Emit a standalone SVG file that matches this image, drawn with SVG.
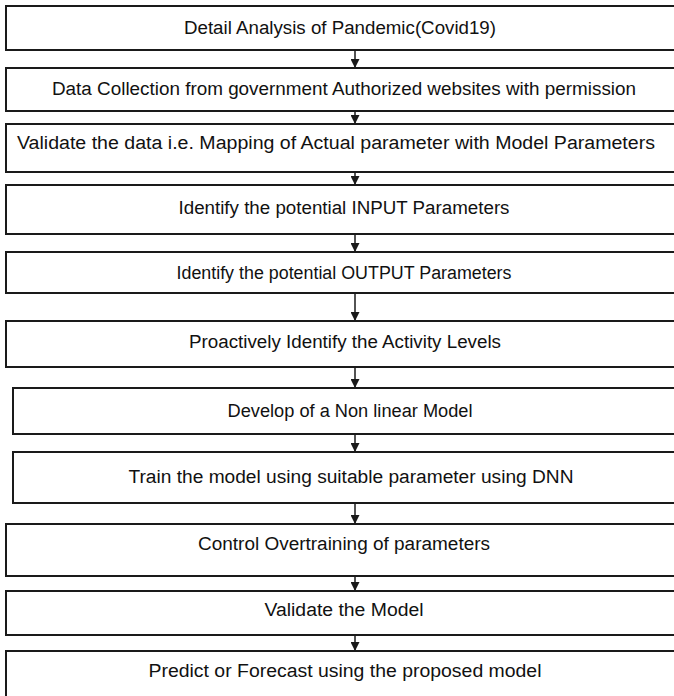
<svg xmlns="http://www.w3.org/2000/svg" width="674" height="696" viewBox="0 0 674 696">
  <style>
    .box { fill: #ffffff; stroke: #1a1a1a; stroke-width: 2; }
    .lbl { font-family: "Liberation Sans", Arial, sans-serif; font-size: 18px; fill: #111111; text-anchor: middle; }
    .conn { stroke: #1a1a1a; stroke-width: 1.5; fill: none; marker-end: url(#arrow); }
  </style>
  <defs>
    <marker id="arrow" markerUnits="userSpaceOnUse" viewBox="0 0 10 10" markerWidth="9" markerHeight="9" refX="10" refY="5" orient="auto">
      <path d="M0,0 L10,5 L0,10 z" fill="#1a1a1a"/>
    </marker>
  </defs>
  <rect width="674" height="696" fill="#ffffff"/>

  <g id="connectors">
    <line class="conn" x1="355" y1="50" x2="355" y2="68"/>
    <line class="conn" x1="355" y1="111" x2="355" y2="124"/>
    <line class="conn" x1="355" y1="172" x2="355" y2="185"/>
    <line class="conn" x1="355" y1="234" x2="355" y2="252"/>
    <line class="conn" x1="355" y1="293" x2="355" y2="321"/>
    <line class="conn" x1="355" y1="367" x2="355" y2="388"/>
    <line class="conn" x1="355" y1="434" x2="355" y2="452"/>
    <line class="conn" x1="355" y1="503" x2="355" y2="524"/>
    <line class="conn" x1="355" y1="576" x2="355" y2="591"/>
    <line class="conn" x1="355" y1="635" x2="355" y2="651"/>
  </g>

  <g id="n1">
    <rect class="box" x="6" y="6" width="690" height="44"/>
    <text class="lbl" x="340" y="34" textLength="312" lengthAdjust="spacingAndGlyphs">Detail Analysis of Pandemic(Covid19)</text>
  </g>
  <g id="n2">
    <rect class="box" x="6" y="68" width="690" height="43"/>
    <text class="lbl" x="344" y="95" textLength="584" lengthAdjust="spacingAndGlyphs">Data Collection from government Authorized websites with permission</text>
  </g>
  <g id="n3">
    <rect class="box" x="6" y="124" width="690" height="48"/>
    <text class="lbl" x="336" y="149" textLength="638" lengthAdjust="spacingAndGlyphs">Validate the data i.e. Mapping of Actual parameter with Model Parameters</text>
  </g>
  <g id="n4">
    <rect class="box" x="6" y="185" width="690" height="49"/>
    <text class="lbl" x="344" y="214" textLength="331" lengthAdjust="spacingAndGlyphs">Identify the potential INPUT Parameters</text>
  </g>
  <g id="n5">
    <rect class="box" x="6" y="252" width="690" height="41"/>
    <text class="lbl" x="344" y="279" textLength="335" lengthAdjust="spacingAndGlyphs">Identify the potential OUTPUT Parameters</text>
  </g>
  <g id="n6">
    <rect class="box" x="6" y="321" width="690" height="46"/>
    <text class="lbl" x="345" y="348" textLength="312" lengthAdjust="spacingAndGlyphs">Proactively Identify the Activity Levels</text>
  </g>
  <g id="n7">
    <rect class="box" x="13" y="388" width="690" height="46"/>
    <text class="lbl" x="350" y="417" textLength="245" lengthAdjust="spacingAndGlyphs">Develop of a Non linear Model</text>
  </g>
  <g id="n8">
    <rect class="box" x="13" y="452" width="690" height="51"/>
    <text class="lbl" x="351" y="483" textLength="445" lengthAdjust="spacingAndGlyphs">Train the model using suitable parameter using DNN</text>
  </g>
  <g id="n9">
    <rect class="box" x="6" y="524" width="690" height="52"/>
    <text class="lbl" x="344" y="550" textLength="292" lengthAdjust="spacingAndGlyphs">Control Overtraining of parameters</text>
  </g>
  <g id="n10">
    <rect class="box" x="6" y="591" width="690" height="44"/>
    <text class="lbl" x="344" y="616" textLength="159" lengthAdjust="spacingAndGlyphs">Validate the Model</text>
  </g>
  <g id="n11">
    <rect class="box" x="6" y="651" width="690" height="60"/>
    <text class="lbl" x="345" y="677" textLength="393" lengthAdjust="spacingAndGlyphs">Predict or Forecast using the proposed model</text>
  </g>
</svg>
